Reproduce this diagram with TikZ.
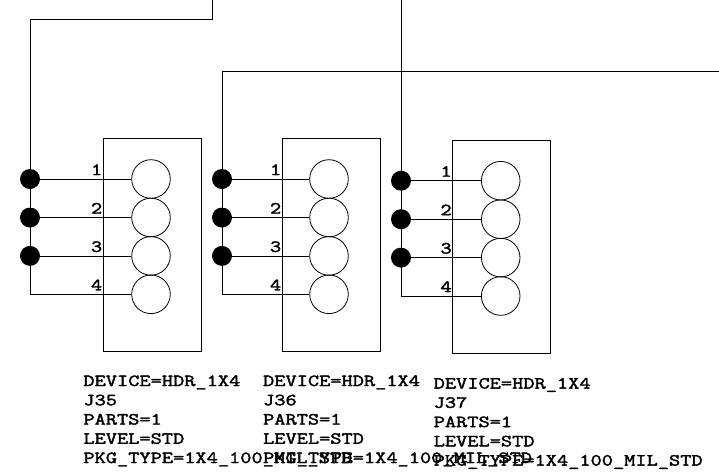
\documentclass[tikz,border=0pt]{standalone}
\usepackage{fontspec}
\newfontfamily\attrfont[FakeStretch=1.28, FakeBold=2.2]{Latin Modern Mono}
\begin{document}
\begin{tikzpicture}[
    x=1pt, y=-1pt,
    line width=0.8pt,
    housing/.style={draw, minimum width=98pt, minimum height=213pt, inner sep=0pt},
    pin/.style={draw, circle, minimum size=38.6pt, inner sep=0pt},
    junction/.style={circle, fill=black, minimum size=20pt, inner sep=0pt},
    pinnum/.style={anchor=base east, inner sep=0pt, font=\attrfont\fontsize{17}{17}\selectfont},
    attrs/.style={anchor=north west, inner sep=0pt, align=left, font=\attrfont\fontsize{17}{19.25}\selectfont}
]
\useasboundingbox (0,0) rectangle (719,475);

% headers
\foreach \name/\wirex/\bx/\cx/\dy/\tx in {35/30/152/151/0/83, 36/222/331/329/0/262.7, 37/401/501.5/500.7/1.7/433.3} {
    \node[housing] (box\name) at (\bx,245+\dy) {};
    \foreach \n/\py in {1/179, 2/217.5, 3/255.9, 4/294.3} {
        \node[pin] (pin\name-\n) at (\cx,\py+\dy) {};
        \coordinate (tap\name-\n) at (\wirex,\py+\dy);
        \draw (tap\name-\n) -- (pin\name-\n);
        \node[pinnum] (num\name-\n) at ([yshift=4pt]box\name.west |- tap\name-\n) {\n};
    }
    \foreach \n in {1,2,3} {
        \node[junction] (dot\name-\n) at (tap\name-\n) {};
    }
    \node[attrs] (attr\name) at (\tx,375+\dy*1.5) {DEVICE=HDR\_1X4\\J\name\\PARTS=1\\LEVEL=STD\\PKG\_TYPE=1X4\_100\_MIL\_STD};
}

% nets
\coordinate (neta) at (212,0);
\coordinate (netb) at (719,71.5);
\coordinate (netc) at (401,0);
\draw (neta) |- (30,19.5) -- (tap35-4);
\draw (netb) -| (tap36-4);
\draw (netc) -- (tap37-4);
\end{tikzpicture}
\end{document}
